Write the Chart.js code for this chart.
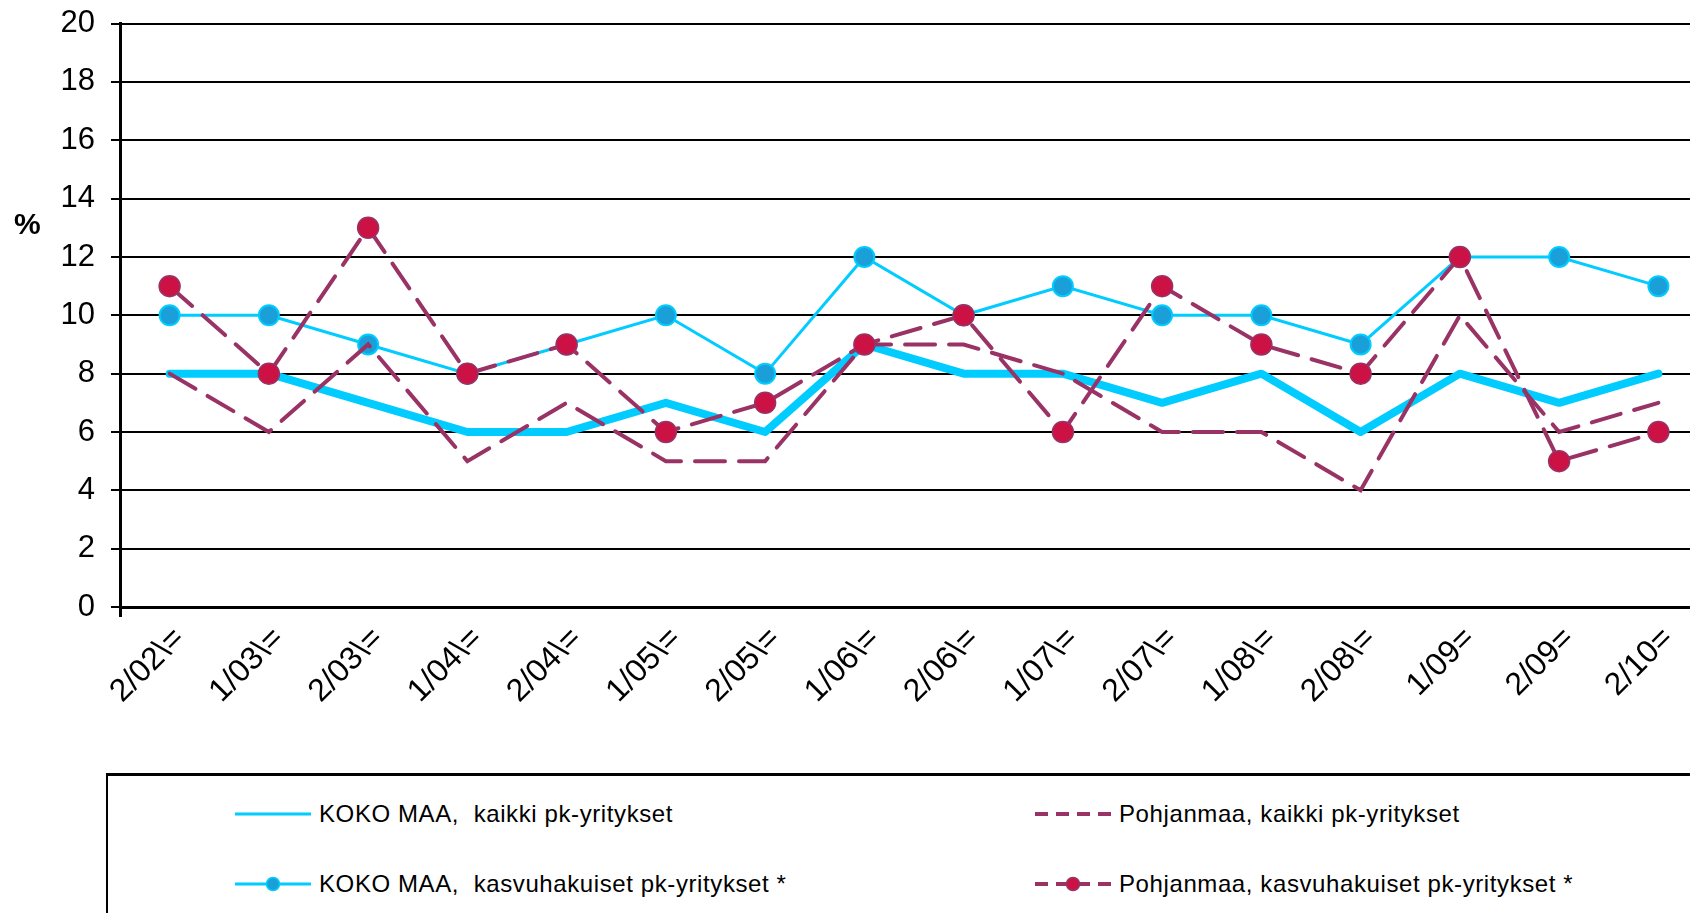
<!DOCTYPE html>
<html>
<head>
<meta charset="utf-8">
<script src="https://cdn.jsdelivr.net/npm/chart.js@4.4.1/dist/chart.umd.min.js"></script>
<style>
  html, body { margin: 0; padding: 0; background: #fff; overflow: hidden; }
  body { width: 1690px; height: 913px; position: relative; font-family: Arial, "Liberation Sans", sans-serif; color: #000; }
  #wrap { position: absolute; left: 0; top: -11px; width: 1720px; height: 924px; }
  #pct { position: absolute; left: 14px; top: 208px; line-height: 32px; font-size: 30px; font-weight: bold; }
  #legend { position: absolute; left: 106px; top: 773px; width: 1700px; height: 300px; border: 2px solid #000; border-top-width: 3px; background: #fff; }
  .item { position: absolute; height: 30px; display: flex; align-items: center; font-size: 24px; letter-spacing: 0.6px; white-space: pre; }
  .item svg { margin-right: 6px; }
</style>
</head>
<body>
<div id="wrap"><canvas id="chart" width="1720" height="924"></canvas></div>
<div id="pct">%</div>
<div id="legend"></div>

<script>
// data
const periods = ["2/02\\=", "1/03\\=", "2/03\\=", "1/04\\=", "2/04\\=", "1/05\\=", "2/05\\=", "1/06\\=",
                 "2/06\\=", "1/07\\=", "2/07\\=", "1/08\\=", "2/08\\=", "1/09=", "2/09=", "2/10="];
const kokoKaikki  = [8, 8, 7, 6, 6, 7, 6, 9, 8, 8, 7, 8, 6, 8, 7, 8];
const kokoKasvu   = [10, 10, 9, 8, 9, 10, 8, 12, 10, 11, 10, 10, 9, 12, 12, 11];
const pohjKaikki  = [8, 6, 9, 5, 7, 5, 5, 9, 9, 8, 6, 6, 4, 10, 6, 7];
const pohjKasvu   = [11, 8, 13, 8, 9, 6, 7, 9, 10, 6, 11, 9, 8, 12, 5, 6];
const seriesNames = [
    "KOKO MAA,  kaikki pk-yritykset",
    "KOKO MAA,  kasvuhakuiset pk-yritykset *",
    "Pohjanmaa, kaikki pk-yritykset",
    "Pohjanmaa, kasvuhakuiset pk-yritykset *"
];

const CYAN = "#00CCFF";
const BLUE_DOT = "#1A9FD8";
const PLUM = "#993366";
const RED_DOT = "#CC1144";

const datasets = [
    {
        label: seriesNames[0], data: kokoKaikki, order: 4,
        borderColor: CYAN, borderWidth: 8, pointRadius: 0,
        borderCapStyle: "round", borderJoinStyle: "round"
    },
    {
        label: seriesNames[1], data: kokoKasvu, order: 3,
        borderColor: CYAN, borderWidth: 3,
        pointRadius: 10, pointBackgroundColor: BLUE_DOT, pointBorderColor: CYAN, pointBorderWidth: 2
    },
    {
        label: seriesNames[2], data: pohjKaikki, order: 2,
        borderColor: PLUM, borderWidth: 4, borderDash: [30, 14], borderCapStyle: "round",
        pointRadius: 0
    },
    {
        label: seriesNames[3], data: pohjKasvu, order: 1,
        borderColor: PLUM, borderWidth: 4, borderDash: [30, 14], borderCapStyle: "round",
        pointRadius: 10.5, pointBackgroundColor: RED_DOT, pointBorderColor: PLUM, pointBorderWidth: 1.5
    }
];

const ctx = document.getElementById("chart").getContext("2d");
const myChart = new Chart(ctx, {
    type: "line",
    data: { labels: periods, datasets },
    options: {
        responsive: false,
        animation: false,
        layout: { padding: { top: 11, right: 0, bottom: 0, left: 0 } },
        plugins: { legend: { display: false }, tooltip: { enabled: false } },
        scales: {
            x: {
                offset: true,
                grid: {
                    offset: true, drawOnChartArea: false, tickLength: 10, lineWidth: 3,
                    color: (c) => c.index === 0 ? "#000" : "rgba(0,0,0,0)"
                },
                border: { color: "#000", width: 3 },
                ticks: {
                    autoSkip: false, minRotation: 45, maxRotation: 45, color: "#000",
                    font: { size: 32, family: "Arial, 'Liberation Sans'" }, padding: 3, labelOffset: 10
                },
                afterFit: (s) => { s.height = 306; }
            },
            y: {
                min: 0, max: 20,
                ticks: { stepSize: 2, color: "#000", font: { size: 31, family: "Arial, 'Liberation Sans'" }, padding: 16 },
                grid: { color: "#000", lineWidth: 2, tickLength: 9 },
                border: { color: "#000", width: 3 },
                afterFit: (s) => { s.width = 120; }
            }
        }
    }
});

// LEYENDA (HTML)
const legendSpots = [
    { left: 125, top: 23 }, { left: 125, top: 93 },
    { left: 925, top: 23 }, { left: 925, top: 93 }
];
const legendBox = document.getElementById("legend");
datasets.forEach((ds, i) => {
    const dash = ds.borderDash ? 'stroke-dasharray="13 8"' : "";
    const w = ds.borderDash ? 4 : 3;
    let svg = `<svg width="80" height="30"><line x1="2" y1="15" x2="78" y2="15" stroke="${ds.borderColor}" stroke-width="${w}" ${dash}/>`;
    if (ds.pointRadius > 0) {
        svg += `<circle cx="40" cy="15" r="6.5" fill="${ds.pointBackgroundColor}" stroke="${ds.pointBorderColor}" stroke-width="1.5"/>`;
    }
    svg += "</svg>";
    const div = document.createElement("div");
    div.className = "item";
    div.style.left = legendSpots[i].left + "px";
    div.style.top = legendSpots[i].top + "px";
    div.innerHTML = svg + "<span></span>";
    div.querySelector("span").textContent = ds.label;
    legendBox.appendChild(div);
});
</script>
</body>
</html>
